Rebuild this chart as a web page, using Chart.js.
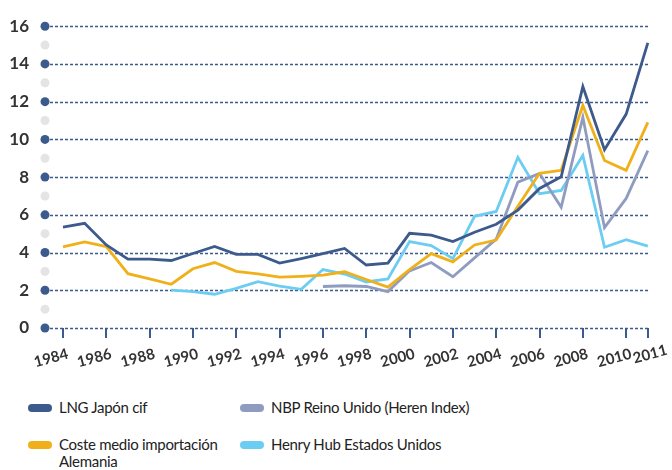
<!DOCTYPE html>
<html>
<head>
<meta charset="utf-8">
<script src="https://cdn.jsdelivr.net/npm/chart.js"></script>
<style>
  body { margin: 0; background: #fff; width: 672px; height: 470px; overflow: hidden; position: relative; }
  #chart { position: absolute; left: 0; top: 0; }
  .legend-item { position: absolute; font-family: "Lato", sans-serif; font-size: 15px; letter-spacing: -0.3px; color: #222; line-height: 17px; }
  .swatch { position: absolute; width: 24px; height: 8px; border-radius: 4px; }
</style>
</head>
<body>
<canvas id="chart" width="672" height="372"></canvas>
<div id="legend"></div>
<script>
const years = [1984, 1985, 1986, 1987, 1988, 1989, 1990, 1991, 1992, 1993, 1994, 1995, 1996, 1997,
  1998, 1999, 2000, 2001, 2002, 2003, 2004, 2005, 2006, 2007, 2008, 2009, 2010, 2011];

const lngJapon = [5.35, 5.55, 4.4, 3.65, 3.65, 3.58, 3.95, 4.32, 3.9, 3.9, 3.44, 3.68, 3.94, 4.22,
  3.34, 3.44, 5.02, 4.92, 4.58, 5.08, 5.5, 6.25, 7.4, 8.02, 12.8, 9.45, 11.34, 15.12];

const costeAlemania = [4.3, 4.56, 4.32, 2.88, 2.6, 2.32, 3.14, 3.47, 3.0, 2.87, 2.7, 2.74, 2.8, 2.98,
  2.57, 2.17, 3.1, 3.94, 3.51, 4.4, 4.66, 6.45, 8.2, 8.36, 11.8, 8.88, 8.36, 10.9];

const nbpReinoUnido = [null, null, null, null, null, null, null, null, null, null, null, null, 2.2, 2.24,
  2.2, 1.93, 3.03, 3.47, 2.72, 3.72, 4.71, 7.73, 8.19, 6.4, 11.17, 5.32, 6.87, 9.4];

const henryHub = [null, null, null, null, null, 2.01, 1.93, 1.79, 2.1, 2.46, 2.22, 2.05, 3.1, 2.86,
  2.44, 2.6, 4.58, 4.37, 3.68, 5.92, 6.18, 9.05, 7.12, 7.29, 9.15, 4.28, 4.68, 4.34];

const xTicks = [1984, 1986, 1988, 1990, 1992, 1994, 1996, 1998, 2000, 2002, 2004, 2006, 2008, 2010, 2011];

const series = [
  { label: "LNG Japón cif", values: lngJapon, color: "#3d5a8c" },
  { label: "Coste medio importación Alemania", values: costeAlemania, color: "#f0b01a" },
  { label: "NBP Reino Unido (Heren Index)", values: nbpReinoUnido, color: "#8f9cc0" },
  { label: "Henry Hub Estados Unidos", values: henryHub, color: "#6ccdf2" }
];

const gridBlue = "#3d5a8c";

// dashed grid on even values, plus dots at the left end (dark on even, light grey on odd)
const dottedGrid = {
  id: "dottedGrid",
  beforeDatasetsDraw(chart) {
    const ctx = chart.ctx;
    const yScale = chart.scales.y;
    const area = chart.chartArea;
    ctx.save();
    ctx.strokeStyle = gridBlue;
    ctx.lineWidth = 1.5;
    ctx.setLineDash([3, 2]);
    for (let v = 0; v <= 16; v += 2) {
      const y = Math.round(yScale.getPixelForValue(v)) + 0.5;
      ctx.beginPath();
      ctx.moveTo(area.left, y);
      ctx.lineTo(area.right, y);
      ctx.stroke();
    }
    ctx.setLineDash([]);
    for (let v = 0; v <= 16; v++) {
      const y = yScale.getPixelForValue(v);
      ctx.beginPath();
      ctx.arc(area.left, y, 4.5, 0, Math.PI * 2);
      ctx.fillStyle = v % 2 === 0 ? gridBlue : "#e4e4e4";
      ctx.fill();
    }
    ctx.restore();
  }
};

const ctx = document.getElementById("chart").getContext("2d");
new Chart(ctx, {
  type: "line",
  data: {
    datasets: series.map((s) => ({
      label: s.label,
      data: years.map((yr, i) => ({ x: yr, y: s.values[i] })),
      borderColor: s.color,
      borderWidth: 2.8,
      pointRadius: 0,
      tension: 0,
      spanGaps: false
    }))
  },
  options: {
    responsive: false,
    animation: false,
    layout: { padding: { left: 0, right: 22, top: 18, bottom: 0 } },
    plugins: { legend: { display: false }, tooltip: { enabled: false } },
    scales: {
      x: {
        type: "linear",
        min: 1983.17,
        max: 2011.1,
        afterBuildTicks: (scale) => {
          scale.ticks = xTicks.map((v) => ({ value: v }));
        },
        afterFit: (scale) => { scale.height = 44; },
        grid: {
          drawOnChartArea: false,
          drawTicks: true,
          tickLength: 10,
          color: gridBlue,
          lineWidth: 2
        },
        border: { display: false },
        ticks: {
          autoSkip: false,
          minRotation: 15,
          maxRotation: 15,
          padding: 3,
          labelOffset: 19,
          color: "#333",
          font: { family: "Lato", weight: "bold", size: 15 },
          // labels are right-aligned when rotated; trailing spaces pull them left, the last one sits further right
          callback: (v) => (v === 2011 ? "2011" : v + "    ")
        }
      },
      y: {
        min: 0,
        max: 16,
        afterFit: (scale) => { scale.width = 45; },
        grid: { display: false, drawTicks: false },
        border: { display: false },
        ticks: {
          stepSize: 2,
          padding: 16,
          color: "#333",
          font: { family: "Lato", weight: "bold", size: 17 }
        }
      }
    }
  },
  plugins: [dottedGrid]
});

// legend below the chart, two columns
const legendPos = [
  { left: 28, top: 400, width: 170 },
  { left: 28, top: 437, width: 170 },
  { left: 240, top: 400, width: 260 },
  { left: 240, top: 437, width: 260 }
];
const legend = document.getElementById("legend");
series.forEach((s, i) => {
  const p = legendPos[i];
  const sw = document.createElement("div");
  sw.className = "swatch";
  sw.style.left = p.left + "px";
  sw.style.top = (p.top + 4) + "px";
  sw.style.background = s.color;
  const item = document.createElement("div");
  item.className = "legend-item";
  item.style.left = (p.left + 31) + "px";
  item.style.top = (p.top - 1) + "px";
  item.style.width = p.width + "px";
  item.innerText = s.label;
  legend.appendChild(sw);
  legend.appendChild(item);
});
</script>
</body>
</html>
